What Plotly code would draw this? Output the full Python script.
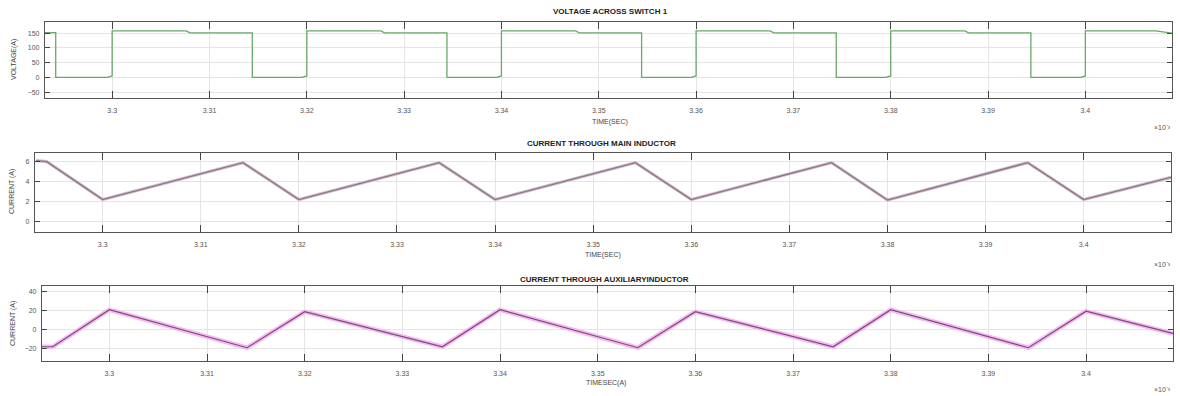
import plotly.graph_objects as go

# ---------------- data (time in ms, axis shows x10^-3 s) ----------------
x_ticks = [3.30, 3.31, 3.32, 3.33, 3.34, 3.35, 3.36, 3.37, 3.38, 3.39, 3.40]
x_tick_labels = ["3.3", "3.31", "3.32", "3.33", "3.34", "3.35", "3.36", "3.37", "3.38", "3.39", "3.4"]

volt_time = [3.2931, 3.2942, 3.2942, 3.2995, 3.3000, 3.3000, 3.3076, 3.3080, 3.3144, 3.3144,
             3.3195, 3.3200, 3.3200, 3.3276, 3.3280, 3.3344, 3.3344, 3.3395, 3.3400, 3.3400,
             3.3476, 3.3480, 3.3544, 3.3544, 3.3595, 3.3600, 3.3600, 3.3676, 3.3680, 3.3744,
             3.3744, 3.3795, 3.3800, 3.3800, 3.3876, 3.3880, 3.3944, 3.3944, 3.3995, 3.4000,
             3.4000, 3.4072, 3.4089]
volt_vals = [152, 152, 0, 0, 5, 158, 158, 151, 151, 0,
             0, 5, 158, 158, 151, 151, 0, 0, 5, 158,
             158, 151, 151, 0, 0, 5, 158, 158, 151, 151,
             0, 0, 5, 158, 158, 151, 151, 0, 0, 5,
             158, 158, 150]

main_time = [3.2932, 3.2943, 3.3000, 3.3143, 3.3200, 3.3343, 3.3400,
             3.3543, 3.3600, 3.3743, 3.3800, 3.3943, 3.4000, 3.4089]
main_current = [6.05, 5.95, 2.2, 5.85, 2.2, 5.85, 2.2,
                5.85, 2.2, 5.85, 2.15, 5.85, 2.2, 4.4]

aux_time = [3.2930, 3.2942, 3.3000, 3.3141, 3.3200, 3.3341, 3.3400,
            3.3541, 3.3600, 3.3741, 3.3800, 3.3941, 3.4000, 3.4089]
aux_current = [-18, -18, 21, -19, 19, -18, 21,
               -19, 19, -18, 21, -19, 19.5, -4]

volt_ticks = [-50, 0, 50, 100, 150]
main_ticks = [0, 2, 4, 6]
aux_ticks = [-20, 0, 20, 40]

W, H = 1180, 396
FONT = "Liberation Sans, Arial, sans-serif"


def px(x):
    return x / W


def py(y):
    return 1 - y / H


fig = go.Figure()

# voltage
fig.add_trace(go.Scatter(x=volt_time, y=volt_vals, mode="lines",
                         line=dict(color="#6aa86a", width=1.3),
                         xaxis="x", yaxis="y", showlegend=False))
# main inductor current
fig.add_trace(go.Scatter(x=main_time, y=main_current, mode="lines",
                         line=dict(color="#d2bccd", width=3.2),
                         xaxis="x2", yaxis="y2", showlegend=False))
fig.add_trace(go.Scatter(x=main_time, y=main_current, mode="lines",
                         line=dict(color="#8a7682", width=1.3),
                         xaxis="x2", yaxis="y2", showlegend=False))
# auxiliary inductor current
fig.add_trace(go.Scatter(x=aux_time, y=aux_current, mode="lines",
                         line=dict(color="#f6b8f2", width=4.5),
                         xaxis="x3", yaxis="y3", showlegend=False))
fig.add_trace(go.Scatter(x=aux_time, y=aux_current, mode="lines",
                         line=dict(color="#7b4a78", width=1.2),
                         xaxis="x3", yaxis="y3", showlegend=False))

xr = [3.2931, 3.4089]
common_x = dict(range=xr, tickvals=x_ticks, ticktext=x_tick_labels,
                ticks="inside", ticklen=7, tickwidth=1.4, tickcolor="#444",
                showline=True, linecolor="#555", linewidth=1.2, mirror="ticks",
                showgrid=True, gridcolor="#e4e4e4", gridwidth=1, zeroline=False,
                tickfont=dict(family=FONT, size=7, color="#555"),
                ticklabelstandoff=5)
common_y = dict(ticks="inside", ticklen=5, tickwidth=1, tickcolor="#444",
                showline=True, linecolor="#555", linewidth=1.2, mirror="ticks",
                showgrid=True, gridcolor="#e4e4e4", gridwidth=1, zeroline=False,
                tickfont=dict(family=FONT, size=7, color="#555"),
                ticklabelstandoff=3)

fig.update_layout(
    width=W, height=H,
    margin=dict(l=0, r=0, t=0, b=0),
    paper_bgcolor="white", plot_bgcolor="white",
    xaxis=dict(domain=[px(45), px(1172)], anchor="y", **common_x),
    yaxis=dict(domain=[py(98), py(22)], anchor="x", range=[-70, 188],
               tickvals=volt_ticks, **common_y),
    xaxis2=dict(domain=[px(35), px(1171)], anchor="y2", **common_x),
    yaxis2=dict(domain=[py(232), py(153)], anchor="x2", range=[-1.0, 6.8],
                tickvals=main_ticks, **common_y),
    xaxis3=dict(domain=[px(42), px(1173)], anchor="y3", **common_x),
    yaxis3=dict(domain=[py(361), py(286)], anchor="x3", range=[-33, 46],
                tickvals=aux_ticks, **common_y),
)

ann = []


def text(x, y, s, size, bold=False, angle=0, color="#333", xanchor="center"):
    ann.append(dict(x=px(x), y=py(y), xref="paper", yref="paper", text=(f"<b>{s}</b>" if bold else s),
                    showarrow=False, textangle=angle, xanchor=xanchor, yanchor="middle",
                    font=dict(family=FONT, size=size, color=color)))


# titles
text(610, 12, "VOLTAGE ACROSS SWITCH 1", 8, bold=True, color="#222")
text(602, 143, "CURRENT THROUGH MAIN INDUCTOR", 8, bold=True, color="#222")
text(604, 279, "CURRENT THROUGH AUXILIARYINDUCTOR", 8, bold=True, color="#222")
# x labels
text(610, 122, "TIME(SEC)", 7, color="#444")
text(603, 255, "TIME(SEC)", 7, color="#444")
text(606, 383, "TIMESEC(A)", 7, color="#444")
# y labels
text(14, 60, "VOLTAGE(A)", 7, angle=-90, color="#444")
text(12, 192, "CURRENT (A)", 7, angle=-90, color="#444")
text(13, 324, "CURRENT (A)", 7, angle=-90, color="#444")
# exponent labels
for yy in (127, 264, 389):
    text(1162, yy, "×10⁻³", 7, color="#555")

fig.update_layout(annotations=ann)

fig.write_html("out.html")
